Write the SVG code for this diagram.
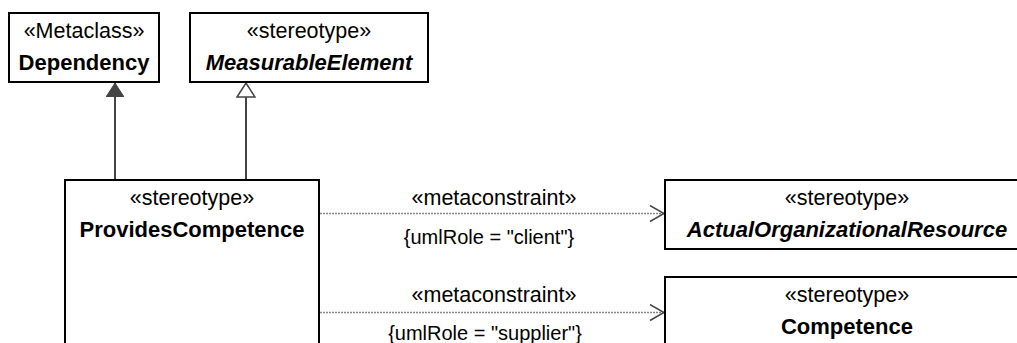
<svg xmlns="http://www.w3.org/2000/svg" width="1017" height="343" viewBox="0 0 1017 343">
<style>
.box{fill:#fff;stroke:#000;stroke-width:2}
.t{font-family:"Liberation Sans",Arial,sans-serif;font-size:21.5px;fill:#000;text-anchor:middle}
.b{font-weight:bold;font-size:22px}
.i{font-style:italic}
.c{font-size:20px}
.gen{stroke:#444;stroke-width:2;fill:none}
.dep{stroke:#888;stroke-width:1.5;stroke-dasharray:2,1;fill:none}
</style>
<defs>
<marker id="filledTri" markerUnits="userSpaceOnUse" viewBox="0 0 14 18" refX="14" refY="9" markerWidth="14" markerHeight="18" orient="auto">
<path d="M0,0 L14,9 L0,18 Z" fill="#444" stroke="#444" stroke-width="1"/>
</marker>
<marker id="hollowTri" markerUnits="userSpaceOnUse" viewBox="-1 -1 16 20" refX="14" refY="9" markerWidth="16" markerHeight="20" orient="auto">
<path d="M0,0 L14,9 L0,18 Z" fill="#fff" stroke="#444" stroke-width="1.5"/>
</marker>
<marker id="openArr" markerUnits="userSpaceOnUse" viewBox="-1 -1 16 18" refX="14" refY="8" markerWidth="16" markerHeight="18" orient="auto">
<path d="M0,0 L14,8 L0,16" fill="none" stroke="#444" stroke-width="1.5"/>
</marker>
</defs>
<g id="connectors">
<line class="gen" x1="115" y1="180" x2="115" y2="83" marker-end="url(#filledTri)"/>
<line class="gen" x1="246" y1="180" x2="246" y2="83" marker-end="url(#hollowTri)"/>
<line class="dep" x1="320" y1="213.5" x2="664" y2="213.5" marker-end="url(#openArr)"/>
<line class="dep" x1="320" y1="312.5" x2="664" y2="312.5" marker-end="url(#openArr)"/>
<text class="t" x="494" y="205">«metaconstraint»</text>
<text class="t c" x="489" y="244">{umlRole = "client"}</text>
<text class="t" x="494" y="302">«metaconstraint»</text>
<text class="t c" x="485" y="340">{umlRole = "supplier"}</text>
</g>
<g id="Dependency">
<rect class="box" x="9" y="13" width="150" height="69"/>
<text class="t" x="84" y="38">«Metaclass»</text>
<text class="t b" x="84" y="69.5">Dependency</text>
</g>
<g id="MeasurableElement">
<rect class="box" x="190" y="13" width="238" height="69"/>
<text class="t" x="309" y="38">«stereotype»</text>
<text class="t b i" x="309" y="69.5">MeasurableElement</text>
</g>
<g id="ProvidesCompetence">
<rect class="box" x="65" y="180" width="254" height="180"/>
<text class="t" x="192" y="205">«stereotype»</text>
<text class="t b" x="192" y="237">ProvidesCompetence</text>
</g>
<g id="ActualOrganizationalResource">
<rect class="box" x="665" y="180" width="364" height="69"/>
<text class="t" x="847" y="205">«stereotype»</text>
<text class="t b i" x="847" y="237">ActualOrganizationalResource</text>
</g>
<g id="Competence">
<rect class="box" x="665" y="277" width="364" height="80"/>
<text class="t" x="847" y="302">«stereotype»</text>
<text class="t b" x="847" y="334">Competence</text>
</g>
</svg>
